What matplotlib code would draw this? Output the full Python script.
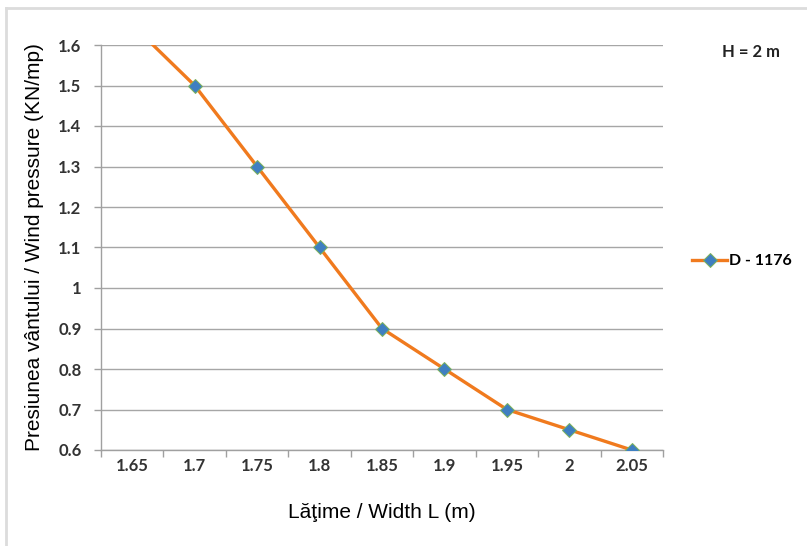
import matplotlib
matplotlib.use('Agg')
import matplotlib.pyplot as plt
from matplotlib.lines import Line2D
import numpy as np

# DATA ##########################################

widths = ['1.65', '1.7', '1.75', '1.8', '1.85', '1.9', '1.95', '2', '2.05']
pressure = [1.65, 1.5, 1.3, 1.1, 0.9, 0.8, 0.7, 0.65, 0.6]
series_name = 'D - 1176'
y_ticks = [0.6, 0.7, 0.8, 0.9, 1, 1.1, 1.2, 1.3, 1.4, 1.5, 1.6]

# FIGURE ########################################

fig = plt.figure(figsize=(8.07, 5.46), dpi=100)
ax = fig.add_axes([101/807, 1 - 450/546, (663 - 101)/807, (450 - 45)/546])

x = np.arange(len(widths))

ax.plot(x, pressure, color='#F07A1E', linewidth=2.4, marker='D', markersize=7,
        markerfacecolor='#3F7FC1', markeredgecolor='#7DB35A', markeredgewidth=0.7,
        zorder=3)

# AXES ##########################################

ax.set_xlim(-0.5, len(widths) - 0.5)
ax.set_ylim(0.6, 1.6)
ax.set_yticks(y_ticks)
ax.set_yticklabels([f'{v:g}' for v in y_ticks])
ax.set_xticks(x)
ax.set_xticklabels(widths)
ax.set_xticks(np.arange(len(widths) + 1) - 0.5, minor=True)

ax.tick_params(axis='x', which='major', length=0, pad=6)
ax.tick_params(axis='x', which='minor', length=5, color='#a0a0a0', width=1)
ax.tick_params(axis='y', which='major', length=5, color='#a0a0a0', width=1, pad=9)

for lab in ax.get_xticklabels() + ax.get_yticklabels():
    lab.set_fontfamily('Lato')
    lab.set_fontweight('bold')
    lab.set_fontsize(12)
    lab.set_color('#333333')

ax.grid(axis='y', color='#a6a6a6', linewidth=1)
ax.set_axisbelow(True)
for side in ['top', 'right']:
    ax.spines[side].set_visible(False)
for side in ['left', 'bottom']:
    ax.spines[side].set_color('#a0a0a0')
    ax.spines[side].set_linewidth(1)

ax.set_xlabel('Lăţime / Width L (m)', fontfamily='Liberation Sans', fontsize=15,
              labelpad=21)
ax.set_ylabel('Presiunea vântului / Wind pressure (KN/mp)', fontfamily='Liberation Sans',
              fontsize=15, labelpad=10)

# ANNOTATIONS ###################################

fig.text(751/807, 1 - 52/546, 'H = 2 m', ha='center', va='center',
         fontfamily='Lato', fontweight='bold', fontsize=12, color='#222222')

handle = Line2D([], [], color='#F07A1E', linewidth=2.4, marker='D', markersize=7,
                markerfacecolor='#3F7FC1', markeredgecolor='#7DB35A', markeredgewidth=0.7)
leg = fig.legend([handle], [series_name], loc='center left',
                 bbox_to_anchor=(684/807, 1 - 261/546), frameon=False,
                 handlelength=2.2, handletextpad=0.1, borderpad=0,
                 prop={'family': 'Lato', 'weight': 'bold', 'size': 11.5})

# chart-area border shadow
fig.add_artist(Line2D([6/807, 1], [1 - 8/546, 1 - 8/546], transform=fig.transFigure,
                      color='#dcdcdc', linewidth=2))
fig.add_artist(Line2D([6/807, 6/807], [0, 1 - 8/546], transform=fig.transFigure,
                      color='#dcdcdc', linewidth=2))

fig.savefig('out.png', dpi=100)
